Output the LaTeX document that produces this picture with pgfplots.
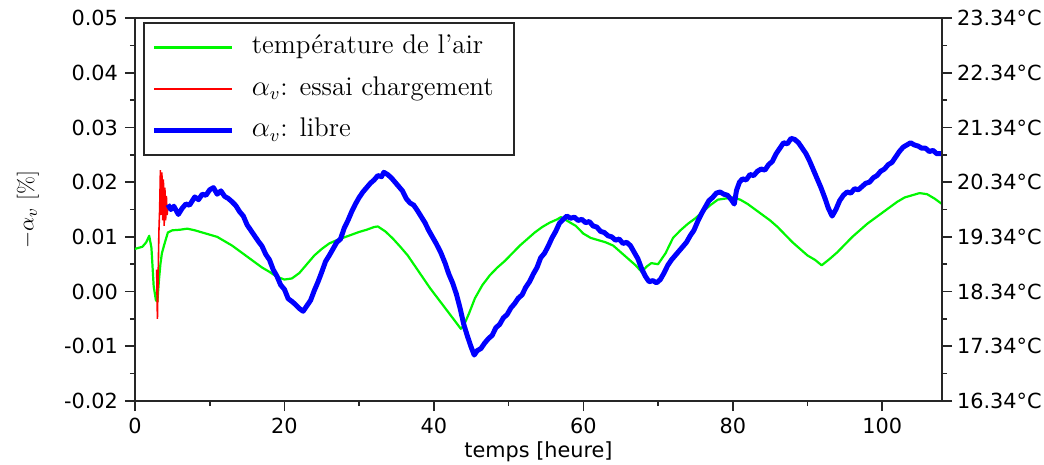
\documentclass[border=0pt]{standalone}
\usepackage{fontspec}
\usepackage{pgfplots}
\pgfplotsset{compat=1.18}
\newfontfamily\dv{DejaVu Sans}
\newcommand\tickfont{\dv\fontsize{10.4}{12}\selectfont}
\definecolor{cgreen}{rgb}{0,0.97,0}
\begin{document}
\begin{tikzpicture}
\path[use as bounding box] (-67.5pt,-32pt) rectangle (454.5pt,200.5pt);
\begin{axis}[name=ax, scale only axis, width=403.5pt, height=191.5pt,
  at={(0,0)}, anchor=south west,
  xmin=0, xmax=108, ymin=-0.02, ymax=0.05,
  xtick={0,20,40,60,80,100}, minor x tick num=1,
  ytick={-0.02,-0.01,0,0.01,0.02,0.03,0.04,0.05}, minor y tick num=1,
  xtick pos=bottom, ytick pos=left, tick align=outside,
  major tick length=5pt, minor tick length=2.5pt,
  axis line style={line width=0.9pt, black!85},
  tick style={line width=0.8pt, black!85},
  ticklabel style={font=\tickfont},
  /pgf/number format/assume math mode=true,
  yticklabel style={/pgf/number format/.cd, fixed, fixed zerofill, precision=2},
  scaled y ticks=false,
  xlabel={temps [heure]}, ylabel={$-\alpha_v$ [\%]},
  xlabel style={font=\tickfont, at={(axis description cs:0.5,-0.132)}, anchor=center},
  ylabel style={font=\fontsize{11}{13}\selectfont, at={(axis description cs:-0.1326,0.5)}, anchor=center},
  legend style={at={(axis description cs:0,1)}, anchor=north west, xshift=4pt, yshift=-2pt,
    draw=black!85, line width=0.9pt, font=\fontsize{13.5}{15}\selectfont,
    inner xsep=4pt, inner ysep=4.5pt, row sep=5.25pt, column sep=6.5pt,
    nodes={inner sep=2pt, text height=9pt, text depth=2.5pt}},
  legend cell align=left,
  legend image code/.code={\draw[#1] (0pt,0pt) -- (39pt,0pt);},
]
\addplot[draw=cgreen, line width=1.1pt, line join=round] coordinates {
(0,0.0078) (0.5,0.0080) (1.0,0.0082) (1.5,0.0090) (1.9,0.0102) (2.2,0.0080) (2.5,0.0010) (2.8,-0.0016) (3.0,-0.0018) (3.2,0.0020) (3.4,0.0050) (3.6,0.0070) (3.9,0.0085) (4.4,0.0108)
(5.0,0.0112) (6.0,0.0113) (7.0,0.0115) (8.0,0.0112) (9.0,0.0108) (10.0,0.0104) (11.0,0.0100) (12.0,0.0092) (13.0,0.0084) (14.0,0.0074) (15.0,0.0064) (16.0,0.0054) (17.0,0.0044) (18.0,0.0036) (19.0,0.0027) (20.0,0.0022)
(21.0,0.0024) (22.0,0.0034) (23.0,0.0050) (24.0,0.0066) (25.0,0.0078) (26.0,0.0088) (27.0,0.0094) (28.0,0.0099) (29.0,0.0104) (30.0,0.0109) (31.0,0.0113) (32.0,0.0118) (32.5,0.0119) (33.5,0.0110) (34.5,0.0097)
(35.5,0.0082) (36.5,0.0066) (37.5,0.0046) (38.5,0.0026) (39.5,0.0006) (40.5,-0.0012) (41.5,-0.0030) (42.5,-0.0048) (43.6,-0.0068) (44.0,-0.0062) (44.7,-0.0040) (45.5,-0.0012) (46.5,0.0012) (47.5,0.0030)
(48.5,0.0044) (49.5,0.0056) (50.5,0.0070) (51.5,0.0084) (52.5,0.0096) (53.5,0.0108) (54.5,0.0118) (55.5,0.0126) (56.5,0.0132) (57.0,0.0136) (58.0,0.0128) (59.0,0.0120) (60.0,0.0106) (61.0,0.0098) (62.0,0.0094)
(63.0,0.0090) (64.0,0.0084) (65.0,0.0072) (66.0,0.0060) (67.0,0.0048) (67.8,0.0036) (68.5,0.0046) (69.1,0.0052) (70.0,0.0050) (71.0,0.0070) (72.0,0.0098) (73.0,0.0112) (74.0,0.0124) (75.0,0.0134) (76.0,0.0146)
(77.0,0.0158) (78.0,0.0168) (79.0,0.0170) (80.0,0.0172) (81.0,0.0168) (82.0,0.0160) (83.0,0.0150) (84.0,0.0140) (85.0,0.0130) (86.0,0.0118) (87.0,0.0104) (88.0,0.0090) (89.0,0.0078) (90.0,0.0066) (91.0,0.0058)
(91.9,0.0048) (93.0,0.0060) (94.0,0.0072) (95.0,0.0086) (96.0,0.0100) (97.0,0.0112) (98.0,0.0124) (99.0,0.0134) (100.0,0.0144) (101.0,0.0154) (102.0,0.0164) (103.0,0.0172) (104.0,0.0176) (105.0,0.0180) (106.0,0.0178) (107.0,0.0170) (108.0,0.0160)
};
\addlegendentry{température de l'air}
\addplot[draw=red, color=red, line width=0.8pt] coordinates {
(2.9,0.0040) (3.0,-0.0050) (3.1,0.0030) (3.2,0.0110) (3.3,0.0150) (3.4,0.0222) (3.5,0.0140) (3.6,0.0218) (3.7,0.0130) (3.8,0.0205) (3.9,0.0120) (4.0,0.0190) (4.1,0.0130) (4.2,0.0175) (4.3,0.0140) (4.4,0.0155)
};
\addlegendentry{$\alpha_v$: essai chargement\hspace*{4pt}}
\addplot[draw=blue, line width=2.5pt, line join=round] coordinates {
(4.4,0.0159) (4.8,0.0150) (5.2,0.0156) (5.8,0.0141) (6.3,0.0152) (6.8,0.0160) (7.3,0.0158) (8.0,0.0173) (8.5,0.0168) (9.0,0.0178) (9.5,0.0176) (10.0,0.0186) (10.5,0.0190) (11.0,0.0178) (11.5,0.0184) (12.0,0.0174)
(12.5,0.0170) (13.0,0.0164) (13.5,0.0157) (14.0,0.0146) (14.5,0.0138) (15.0,0.0122) (15.5,0.0112) (16.0,0.0102) (16.5,0.0092) (17.0,0.0083) (17.5,0.0068) (18.0,0.0058) (18.5,0.0040) (19.0,0.0028) (19.5,0.0012)
(20.0,0.0004) (20.5,-0.0013) (21.0,-0.0018) (21.5,-0.0024) (22.0,-0.0031) (22.5,-0.0036) (23.0,-0.0026) (23.5,-0.0016) (24.0,0.0002) (24.5,0.0018) (25.0,0.0036) (25.5,0.0055) (26.0,0.0066) (26.5,0.0078)
(27.0,0.0090) (27.5,0.0096) (28.0,0.0116) (28.5,0.0130) (29.0,0.0146) (29.5,0.0160) (30.0,0.0172) (30.5,0.0182) (31.0,0.0190) (31.5,0.0198) (32.0,0.0204) (32.5,0.0212) (33.0,0.0210) (33.3,0.0218) (33.8,0.0214)
(34.3,0.0208) (34.8,0.0200) (35.3,0.0192) (35.8,0.0184) (36.3,0.0170) (36.8,0.0162) (37.3,0.0158) (37.8,0.0148) (38.3,0.0137) (38.8,0.0126) (39.3,0.0112) (39.8,0.0100) (40.3,0.0088) (40.9,0.0072) (41.5,0.0052)
(42.0,0.0032) (42.5,0.0016) (43.0,-0.0004) (43.5,-0.0030) (44.0,-0.0060) (44.5,-0.0082) (45.0,-0.0102) (45.4,-0.0116) (45.8,-0.0108) (46.3,-0.0104) (46.8,-0.0094) (47.3,-0.0086) (47.8,-0.0080) (48.3,-0.0066)
(48.8,-0.0060) (49.3,-0.0048) (49.8,-0.0042) (50.3,-0.0030) (50.8,-0.0022) (51.3,-0.0012) (51.8,-0.0006) (52.3,0.0008) (52.8,0.0018) (53.3,0.0032) (53.8,0.0044) (54.3,0.0062) (54.8,0.0070) (55.3,0.0083)
(55.8,0.0098) (56.3,0.0110) (56.8,0.0125) (57.3,0.0132) (57.8,0.0138) (58.3,0.0134) (58.8,0.0136) (59.3,0.0130) (59.8,0.0132) (60.3,0.0126) (60.8,0.0128) (61.3,0.0120) (61.8,0.0118) (62.3,0.0110) (62.8,0.0108)
(63.3,0.0102) (63.8,0.0100) (64.3,0.0094) (64.8,0.0096) (65.3,0.0088) (65.8,0.0090) (66.3,0.0084) (66.8,0.0072) (67.3,0.0060) (67.8,0.0042) (68.3,0.0028) (68.8,0.0018) (69.3,0.0020) (69.8,0.0016) (70.3,0.0022)
(70.8,0.0034) (71.3,0.0048) (71.8,0.0058) (72.3,0.0066) (72.8,0.0074) (73.3,0.0082) (73.8,0.0090) (74.3,0.0102) (74.8,0.0112) (75.3,0.0128) (75.8,0.0142) (76.3,0.0154) (76.8,0.0166) (77.3,0.0172) (77.8,0.0180)
(78.3,0.0182) (78.8,0.0178) (79.3,0.0176) (79.8,0.0168) (80.2,0.0160) (80.5,0.0185) (80.9,0.0200) (81.3,0.0206) (81.8,0.0204) (82.3,0.0214) (82.8,0.0212) (83.3,0.0220) (83.8,0.0224) (84.3,0.0222) (84.8,0.0232)
(85.3,0.0238) (85.8,0.0252) (86.3,0.0262) (86.8,0.0272) (87.3,0.0270) (87.8,0.0280) (88.3,0.0278) (88.8,0.0272) (89.3,0.0262) (89.8,0.0252) (90.3,0.0238) (90.8,0.0222) (91.3,0.0206) (91.8,0.0190) (92.3,0.0172)
(92.8,0.0152) (93.3,0.0138) (93.8,0.0150) (94.3,0.0166) (94.8,0.0176) (95.3,0.0182) (95.8,0.0180) (96.3,0.0188) (96.8,0.0186) (97.3,0.0192) (97.8,0.0198) (98.3,0.0200) (98.8,0.0208) (99.3,0.0212) (99.8,0.0220)
(100.3,0.0224) (100.8,0.0232) (101.3,0.0236) (101.8,0.0246) (102.3,0.0256) (102.8,0.0264) (103.3,0.0268) (103.8,0.0272) (104.3,0.0268) (104.8,0.0266) (105.3,0.0262) (105.8,0.0262) (106.3,0.0256) (106.8,0.0258)
(107.3,0.0252) (108.0,0.0252)
};
\addlegendentry{$\alpha_v$: libre}
\end{axis}
\begin{axis}[scale only axis, width=403.5pt, height=191.5pt,
  at={(0,0)}, anchor=south west,
  xmin=0, xmax=108, ymin=16.34, ymax=23.34,
  hide x axis, axis y line*=right,
  ytick={16.34,17.34,18.34,19.34,20.34,21.34,22.34,23.34},
  yticklabels={16.34°C,17.34°C,18.34°C,19.34°C,20.34°C,21.34°C,22.34°C,23.34°C},
  minor y tick num=1, tick align=outside,
  major tick length=5pt, minor tick length=2.5pt,
  axis line style={line width=0.9pt, black!85},
  tick style={line width=0.8pt, black!85},
  ticklabel style={font=\tickfont},
  yticklabel style={xshift=-1pt},
]
\end{axis}
\end{tikzpicture}
\end{document}
